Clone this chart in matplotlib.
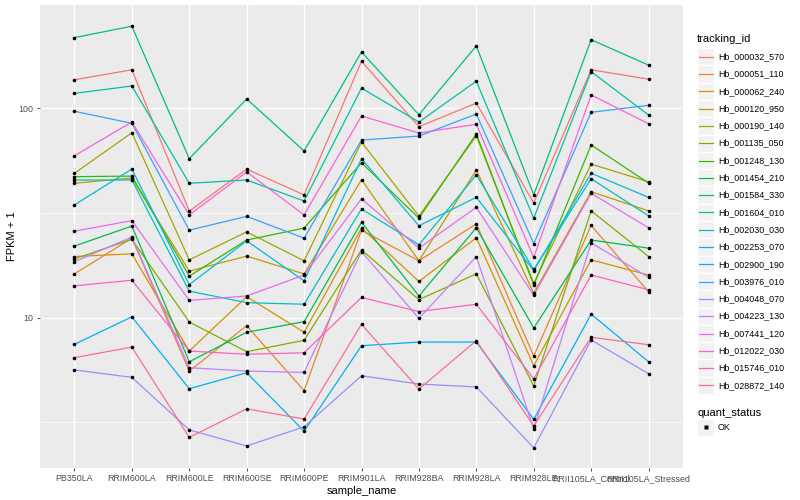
import numpy as np
import matplotlib
matplotlib.use("Agg")
import matplotlib.pyplot as plt
from matplotlib.patches import Rectangle

plt.rcParams['font.family'] = ['Liberation Sans', 'DejaVu Sans']

samples = ["PB350LA", "RRIM600LA", "RRIM600LE", "RRIM600SE", "RRIM600PE",
           "RRIM901LA", "RRIM928BA", "RRIM928LA", "RRIM928LE",
           "RRII105LA_Control", "RRII105LA_Stressed"]

ids = ["Hb_000032_570", "Hb_000051_110", "Hb_000062_240", "Hb_000120_950",
       "Hb_000190_140", "Hb_001135_050", "Hb_001248_130", "Hb_001454_210",
       "Hb_001584_330", "Hb_001604_010", "Hb_002030_030", "Hb_002253_070",
       "Hb_002900_190", "Hb_003976_010", "Hb_004048_070", "Hb_004223_130",
       "Hb_007441_120", "Hb_012022_030", "Hb_015746_010", "Hb_028872_140"]

colors = ["#F8766D", "#EA8331", "#D89000", "#C09B00", "#A3A500", "#7CAE00",
          "#39B600", "#00BB4E", "#00BF7D", "#00C1A3", "#00BFC4", "#00BAE0",
          "#00B0F6", "#35A2FF", "#9590FF", "#C77CFF", "#E76BF3", "#FA62DB",
          "#FF62BC", "#FF6C91"]

# FPKM + 1, one row per tracking_id, one column per sample
fpkm = [
    [137, 153, 32.3, 51.3, 38.6, 168, 81.8, 106, 35.3, 153, 138],
    [16.2, 24.0, 5.56, 9.16, 4.48, 26.2, 18.7, 28.1, 6.56, 27.6, 13.3],
    [19.6, 20.2, 6.93, 12.6, 8.52, 26.8, 14.9, 24.1, 5.90, 18.9, 16.0],
    [43.9, 46.5, 16.7, 19.7, 16.2, 45.6, 18.7, 50.8, 13.1, 40.0, 32.4],
    [49.0, 76.5, 18.9, 25.7, 18.7, 69.1, 30.6, 74.0, 14.6, 54.2, 44.6],
    [19.1, 23.7, 9.54, 6.88, 7.80, 21.1, 12.2, 16.2, 4.72, 32.4, 19.6],
    [47.2, 47.5, 15.8, 23.5, 26.8, 55.0, 29.9, 75.5, 14.3, 66.9, 44.0],
    [22.0, 27.4, 6.16, 8.52, 9.57, 28.6, 12.7, 26.9, 8.93, 23.5, 21.5],
    [218, 247, 57.5, 111, 62.6, 186, 93.3, 199, 38.6, 213, 161],
    [118, 128, 43.9, 45.5, 36.1, 125, 86.1, 135, 29.9, 150, 93.0],
    [45.5, 45.5, 13.4, 11.8, 11.6, 33.1, 22.3, 48.2, 17.0, 46.1, 30.7],
    [34.6, 51.3, 14.4, 23.3, 15.0, 57.5, 27.5, 37.6, 16.8, 49.0, 37.6],
    [7.46, 10.1, 4.58, 5.46, 2.87, 7.35, 7.65, 7.65, 3.27, 10.4, 6.16],
    [96.9, 84.9, 26.2, 30.5, 24.0, 70.6, 73.8, 94.0, 22.6, 95.8, 103.5],
    [5.63, 5.19, 2.91, 2.44, 3.01, 5.28, 4.82, 4.67, 2.39, 7.83, 5.40],
    [18.5, 24.3, 5.77, 5.56, 5.48, 20.7, 9.93, 19.6, 2.94, 22.8, 15.6],
    [25.9, 29.1, 12.1, 12.7, 16.0, 37.0, 21.5, 33.7, 12.8, 39.3, 26.9],
    [59.4, 86.1, 31.0, 49.7, 31.0, 92.0, 76.3, 84.0, 19.4, 116, 84.5],
    [14.2, 15.1, 6.93, 6.69, 6.80, 12.5, 10.7, 11.6, 5.10, 16.0, 13.6],
    [6.44, 7.24, 2.68, 3.67, 3.28, 9.30, 4.56, 7.77, 3.04, 8.06, 7.43],
]

fig = plt.figure(figsize=(8, 5), dpi=100)
ax = fig.add_axes([40 / 800, 1 - 468 / 500, 643 / 800, 463 / 500])
ax.set_facecolor("#EBEBEB")
for s in ax.spines.values():
    s.set_visible(False)

x = np.arange(1, len(samples) + 1)
ax.set_yscale("log")
ax.set_ylim(1.914, 312)
ax.set_xlim(0.4, 11.6)

# grid
for yv in [10, 100]:
    ax.axhline(yv, color="white", lw=1.0, zorder=0)
for yv in [10 ** 0.5, 10 ** 1.5, 10 ** 2.5]:
    ax.axhline(yv, color="white", lw=0.5, zorder=0)
for xv in x:
    ax.axvline(xv, color="white", lw=1.0, zorder=0)

for row, c in zip(fpkm, colors):
    ax.plot(x, row, color=c, lw=0.9, zorder=2)
for row in fpkm:
    ax.plot(x, row, "o", color="black", ms=2.6, zorder=3, mec="none")

ax.set_yticks([10, 100])
ax.set_yticklabels(["10", "100"])
ax.yaxis.set_minor_locator(matplotlib.ticker.NullLocator())
ax.set_xticks(x)
ax.set_xticklabels(samples)
ax.tick_params(axis="both", labelsize=6.4, colors="#333333", length=2.5,
               width=0.6, pad=2, labelcolor="#4D4D4D")
ax.set_xlabel("sample_name", fontsize=8, labelpad=2)
ax.set_ylabel("FPKM + 1", fontsize=8, labelpad=1)

# legends drawn in pixel coordinates
lax = fig.add_axes([690 / 800, 0, 110 / 800, 1])
lax.set_xlim(690, 800)
lax.set_ylim(500, 0)
lax.axis("off")
lax.text(697, 39, "tracking_id", fontsize=8, va="center", ha="left")
for i, (name, c) in enumerate(zip(ids, colors)):
    yc = 56.7 + i * 17.3
    lax.add_patch(Rectangle((697, yc - 8.65), 17.3, 17.3, fc="#F2F2F2",
                            ec="white", lw=1))
    lax.plot([698.7, 712.6], [yc, yc], color=c, lw=0.9)
    lax.text(718, yc, name, fontsize=6.4, va="center", ha="left")

lax.text(697, 412.7, "quant_status", fontsize=8, va="center", ha="left")
lax.add_patch(Rectangle((697, 427.3 - 8.65), 17.3, 17.3, fc="#F2F2F2",
                        ec="white", lw=1))
lax.plot([705.6], [427.3], "s", color="black", ms=2.6, mec="none")
lax.text(718, 427.3, "OK", fontsize=6.4, va="center", ha="left")

fig.savefig("out.png", dpi=100)
